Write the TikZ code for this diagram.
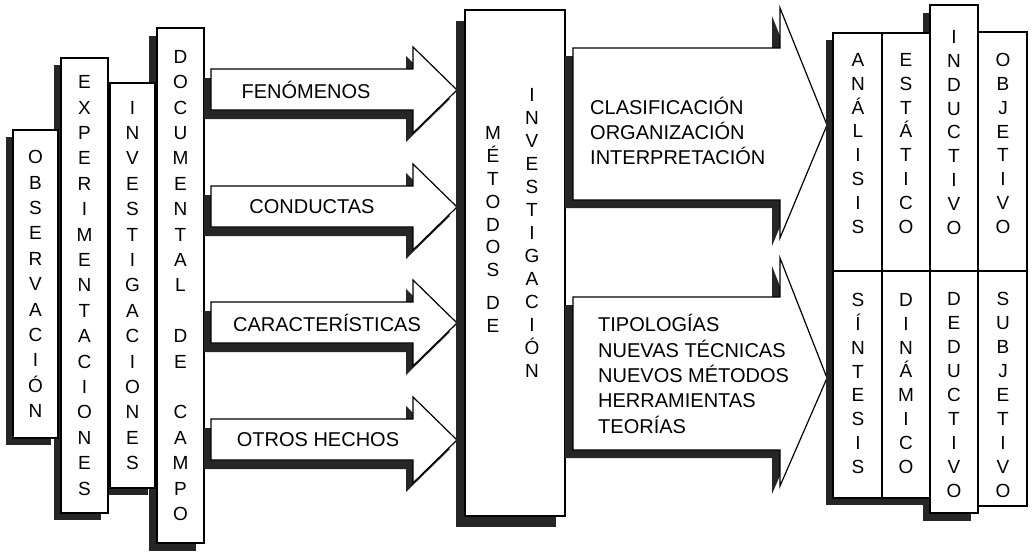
\documentclass[tikz,border=0pt]{standalone}
\usepackage{fontspec}
\setmainfont{Liberation Sans}
\usetikzlibrary{shadows}

\tikzset{
    caja/.style={draw, fill=white, line width=1.2pt},
    sombra/.style 2 args={drop shadow={shadow xshift=-#1pt, shadow yshift=-#2pt, fill=black!85, opacity=1}},
    columna/.style={font=\fontsize{19}{#1}\selectfont, align=center, inner sep=0pt},
    columna/.default=25.4,
    texto/.style={font=\fontsize{20}{25.3}\selectfont, align=left, inner sep=0pt}
}

\begin{document}
\begin{tikzpicture}[x=1pt,y=-1pt]
            \useasboundingbox (0,0) rectangle (1034,554);
            % draw the sources
            \node[caja, sombra={8}{8}, columna, minimum width=47, minimum height=515] (doc) at (180.5,285.5)
                {D\\O\\C\\U\\M\\E\\N\\T\\A\\L\\[25.4pt]D\\E\\[25.4pt]C\\A\\M\\P\\O};
            \node[caja, sombra={7}{7}, columna, minimum width=45, minimum height=405] (inv) at (132.5,285.5)
                {I\\N\\V\\E\\S\\T\\I\\G\\A\\C\\I\\O\\N\\E\\S};
            \node[caja, sombra={7}{7}, columna, minimum width=47, minimum height=455] (exp) at (84.5,285.5)
                {E\\X\\P\\E\\R\\I\\M\\E\\N\\T\\A\\C\\I\\O\\N\\E\\S};
            \node[caja, sombra={7}{7}, columna, minimum width=45, minimum height=308] (obs) at (35.5,284)
                {O\\B\\S\\E\\R\\V\\A\\C\\I\\Ó\\N};
            % draw the small arrows
            \foreach \t/\cx/\nombre/\txt in {90/306/fen/FENÓMENOS, 207/312/con/CONDUCTAS,
                    323/327/car/CARACTERÍSTICAS, 440/318/otr/OTROS HECHOS}{
                \draw[caja, sombra={7}{9}] (211,\t-21) -- (413,\t-21) -- (413,\t-43) -- (457,\t)
                    -- (413,\t+43) -- (413,\t+20) -- (211,\t+20) -- cycle;
                \node[texto] (\nombre) at (\cx,\t) {\txt};
            }
            % draw the central box
            \draw[caja, sombra={9}{11}] (465,10) rectangle (565,516);
            \node[columna=22.8] (metodos) at (493,229.5) {M\\É\\T\\O\\D\\O\\S\\[10pt]D\\E};
            \node[columna=23] (investigacion) at (532,233) {I\\N\\V\\E\\S\\T\\I\\G\\A\\C\\I\\Ó\\N};
            % draw the big arrows
            \draw[caja, sombra={8}{8}] (573,48) -- (780,48) -- (780,8) -- (827,125) -- (780,238)
                -- (780,200) -- (573,200) -- cycle;
            \draw[caja, sombra={8}{8}] (573,297) -- (780,297) -- (780,258) -- (827,378) -- (780,486)
                -- (780,450) -- (573,450) -- cycle;
            \node[texto, anchor=west] (clasif) at (590,131) {CLASIFICACIÓN\\ORGANIZACIÓN\\INTERPRETACIÓN};
            \node[texto, anchor=west] (tipos) at (598,374) {TIPOLOGÍAS\\NUEVAS TÉCNICAS\\NUEVOS MÉTODOS\\HERRAMIENTAS\\TEORÍAS};
            % draw the results
            \draw[caja, sombra={7}{8}] (930,5) rectangle (978,513);
            \draw[caja, sombra={7}{7}] (833,33) rectangle (930,498);
            \draw[caja] (978,32) rectangle (1027,506);
            \draw[line width=1.2pt] (882,33) -- (882,498);
            \draw[line width=1.2pt] (833,271) -- (1027,271);
            \node[columna=23.9] (analisis) at (858,143.5) {A\\N\\Á\\L\\I\\S\\I\\S};
            \node[columna=23.9] (estatico) at (906,143.5) {E\\S\\T\\Á\\T\\I\\C\\O};
            \node[columna=23.9] (inductivo) at (954,132.5) {I\\N\\D\\U\\C\\T\\I\\V\\O};
            \node[columna=23.9] (objetivo) at (1003,143.5) {O\\B\\J\\E\\T\\I\\V\\O};
            \node[columna=23.9] (sintesis) at (858,383.5) {S\\Í\\N\\T\\E\\S\\I\\S};
            \node[columna=23.9] (dinamico) at (906,383.5) {D\\I\\N\\Á\\M\\I\\C\\O};
            \node[columna=23.9] (deductivo) at (954,395) {D\\E\\D\\U\\C\\T\\I\\V\\O};
            \node[columna=23.9] (subjetivo) at (1003,395) {S\\U\\B\\J\\E\\T\\I\\V\\O};
        \end{tikzpicture}
\end{document}
